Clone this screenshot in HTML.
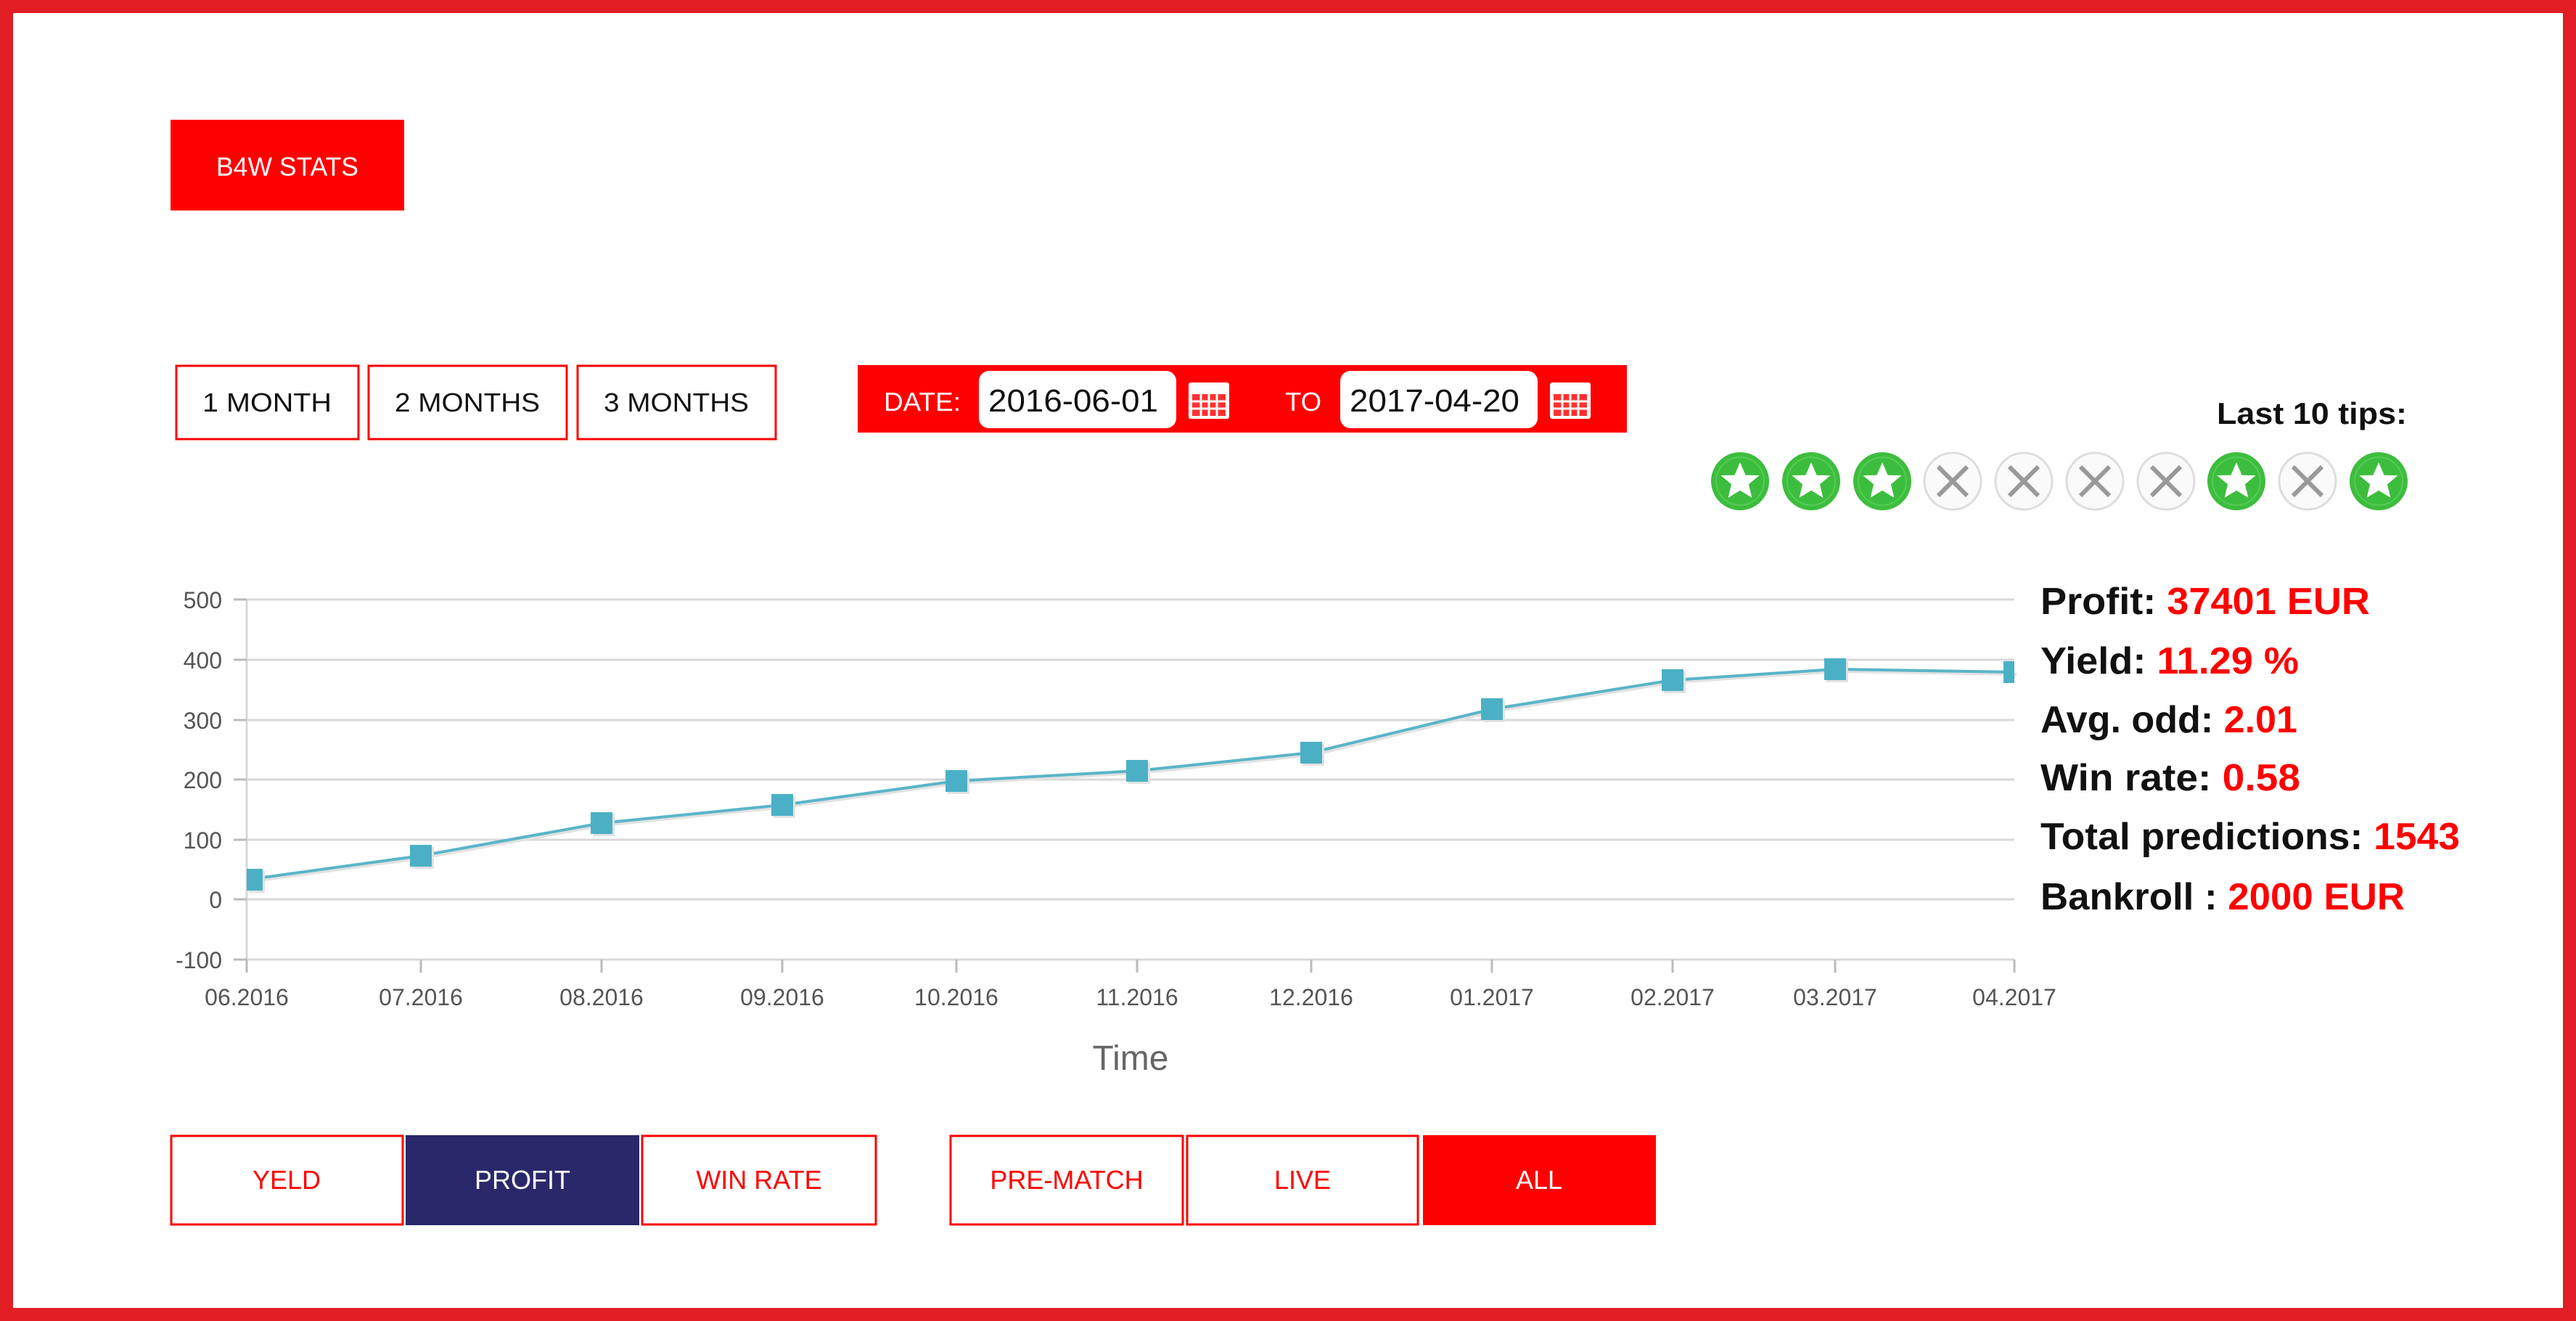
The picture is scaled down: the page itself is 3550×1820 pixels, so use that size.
<!DOCTYPE html>
<html><head><meta charset="utf-8"><style>html,body{margin:0;padding:0;background:#fff}svg{display:block}</style></head><body>
<svg width="3550" height="1820" viewBox="0 0 3550 1820" xmlns="http://www.w3.org/2000/svg" font-family="Liberation Sans, sans-serif">
<rect x="0" y="0" width="3550" height="1820" fill="#e01e24"/>
<rect x="18" y="18" width="3514" height="1784" fill="#fff"/>
<!-- B4W STATS -->
<rect x="235" y="165" width="322" height="125" fill="#ff0000"/>
<text x="396" y="242" fill="#fff" font-size="36" text-anchor="middle" textLength="196" lengthAdjust="spacingAndGlyphs">B4W STATS</text>
<!-- month buttons -->
<g fill="#fff" stroke="#ff0000" stroke-width="3">
<rect x="243" y="504" width="251" height="101"/><rect x="508" y="504" width="273" height="101"/><rect x="796" y="504" width="273" height="101"/>
</g>
<g fill="#111" font-size="36" text-anchor="middle">
<text x="368" y="567" textLength="178" lengthAdjust="spacingAndGlyphs">1 MONTH</text>
<text x="644" y="567" textLength="200" lengthAdjust="spacingAndGlyphs">2 MONTHS</text>
<text x="932" y="567" textLength="200" lengthAdjust="spacingAndGlyphs">3 MONTHS</text>
</g>
<!-- date bar -->
<rect x="1182" y="503" width="1060" height="93" fill="#ff0000"/>
<text x="1218" y="566" fill="#fff" font-size="36" textLength="106" lengthAdjust="spacingAndGlyphs">DATE:</text>
<rect x="1349" y="511" width="272" height="79" rx="14" fill="#fff"/>
<text x="1362" y="567" fill="#111" font-size="44" textLength="234" lengthAdjust="spacingAndGlyphs">2016-06-01</text>
<text x="1771" y="566" fill="#fff" font-size="36" textLength="50" lengthAdjust="spacingAndGlyphs">TO</text>
<rect x="1847" y="511" width="272" height="79" rx="14" fill="#fff"/>
<text x="1860" y="567" fill="#111" font-size="44" textLength="234" lengthAdjust="spacingAndGlyphs">2017-04-20</text>
<g fill="#fff">
<rect x="1638" y="527" width="56" height="50" rx="3"/><rect x="2136" y="527" width="56" height="50" rx="3"/>
</g>
<g fill="#ff3030">
<rect x="1643" y="543" width="46" height="30"/><rect x="2141" y="543" width="46" height="30"/>
</g>
<g stroke="#fff" stroke-width="3">
<line x1="1643" y1="553" x2="1689" y2="553"/><line x1="1643" y1="563" x2="1689" y2="563"/><line x1="1655" y1="543" x2="1655" y2="573"/><line x1="1666" y1="543" x2="1666" y2="573"/><line x1="1677" y1="543" x2="1677" y2="573"/>
<line x1="2141" y1="553" x2="2187" y2="553"/><line x1="2141" y1="563" x2="2187" y2="563"/><line x1="2153" y1="543" x2="2153" y2="573"/><line x1="2164" y1="543" x2="2164" y2="573"/><line x1="2175" y1="543" x2="2175" y2="573"/>
</g>
<!-- last 10 tips -->
<text x="3317" y="584" fill="#111" font-size="42" font-weight="bold" text-anchor="end" textLength="262" lengthAdjust="spacingAndGlyphs">Last 10 tips:</text>
<defs>
<g id="win"><circle r="40" fill="#3dbd3d"/><circle r="33" fill="none" stroke="#55cc55" stroke-width="2"/><polygon points="0,-26 7.6,-8.4 26.6,-8 11.9,4.2 16.4,22.8 0,12.8 -16.4,22.8 -11.9,4.2 -26.6,-8 -7.6,-8.4" fill="#fff"/></g>
<g id="lose"><circle r="39" fill="#fafafa" stroke="#ddd" stroke-width="3"/><path d="M-20,-20 L20,20 M20,-20 L-20,20" stroke="#999" stroke-width="6"/></g>
</defs>
<use href="#win" x="2398" y="663"/><use href="#win" x="2496" y="663"/><use href="#win" x="2594" y="663"/>
<use href="#lose" x="2691" y="663"/><use href="#lose" x="2789" y="663"/><use href="#lose" x="2887" y="663"/><use href="#lose" x="2985" y="663"/>
<use href="#win" x="3082" y="663"/><use href="#lose" x="3180" y="663"/><use href="#win" x="3278" y="663"/>
<!-- chart grid -->
<g stroke="#d8d8d8" stroke-width="3">
<line x1="340" y1="826" x2="2776" y2="826"/><line x1="340" y1="909" x2="2776" y2="909"/><line x1="340" y1="992" x2="2776" y2="992"/><line x1="340" y1="1074" x2="2776" y2="1074"/><line x1="340" y1="1157" x2="2776" y2="1157"/><line x1="340" y1="1239" x2="2776" y2="1239"/><line x1="340" y1="1322" x2="2776" y2="1322"/>
<line x1="340" y1="826" x2="340" y2="1322"/>
</g>
<g stroke="#bbb" stroke-width="3">
<line x1="322" y1="826" x2="340" y2="826"/><line x1="322" y1="909" x2="340" y2="909"/><line x1="322" y1="992" x2="340" y2="992"/><line x1="322" y1="1074" x2="340" y2="1074"/><line x1="322" y1="1157" x2="340" y2="1157"/><line x1="322" y1="1239" x2="340" y2="1239"/><line x1="322" y1="1322" x2="340" y2="1322"/>
<line x1="340" y1="1322" x2="340" y2="1340"/><line x1="580" y1="1322" x2="580" y2="1340"/><line x1="829" y1="1322" x2="829" y2="1340"/><line x1="1078" y1="1322" x2="1078" y2="1340"/><line x1="1318" y1="1322" x2="1318" y2="1340"/><line x1="1567" y1="1322" x2="1567" y2="1340"/><line x1="1807" y1="1322" x2="1807" y2="1340"/><line x1="2056" y1="1322" x2="2056" y2="1340"/><line x1="2305" y1="1322" x2="2305" y2="1340"/><line x1="2529" y1="1322" x2="2529" y2="1340"/><line x1="2776" y1="1322" x2="2776" y2="1340"/>
</g>
<g fill="#555" font-size="32" text-anchor="end">
<text x="306" y="838">500</text><text x="306" y="921">400</text><text x="306" y="1004">300</text><text x="306" y="1086">200</text><text x="306" y="1169">100</text><text x="306" y="1251">0</text><text x="306" y="1334">-100</text>
</g>
<g fill="#555" font-size="32" text-anchor="middle">
<text x="340" y="1385">06.2016</text><text x="580" y="1385">07.2016</text><text x="829" y="1385">08.2016</text><text x="1078" y="1385">09.2016</text><text x="1318" y="1385">10.2016</text><text x="1567" y="1385">11.2016</text><text x="1807" y="1385">12.2016</text><text x="2056" y="1385">01.2017</text><text x="2305" y="1385">02.2017</text><text x="2529" y="1385">03.2017</text><text x="2776" y="1385">04.2017</text>
</g>
<text x="1558" y="1474" fill="#666" font-size="48" text-anchor="middle">Time</text>
<!-- series -->
<polyline points="343,1215 583,1182 832,1137 1081,1112 1321,1079 1570,1065 1810,1040 2059,980 2308,940 2532,925 2779,929" fill="none" stroke="#e2e2e2" stroke-width="4"/>
<polyline points="340,1212 580,1179 829,1134 1078,1109 1318,1076 1567,1062 1807,1037 2056,977 2305,937 2529,922 2776,926" fill="none" stroke="#5ab5c8" stroke-width="4"/>
<g fill="#e2e2e2">
<rect x="343" y="1200" width="22" height="30"/><rect x="568" y="1167" width="30" height="30"/><rect x="817" y="1122" width="30" height="30"/><rect x="1066" y="1097" width="30" height="30"/><rect x="1306" y="1064" width="30" height="30"/><rect x="1555" y="1050" width="30" height="30"/><rect x="1795" y="1025" width="30" height="30"/><rect x="2044" y="965" width="30" height="30"/><rect x="2293" y="925" width="30" height="30"/><rect x="2517" y="910" width="30" height="30"/>
</g>
<g fill="#4bb0c6">
<rect x="340" y="1197" width="22" height="30"/><rect x="565" y="1164" width="30" height="30"/><rect x="814" y="1119" width="30" height="30"/><rect x="1063" y="1094" width="30" height="30"/><rect x="1303" y="1061" width="30" height="30"/><rect x="1552" y="1047" width="30" height="30"/><rect x="1792" y="1022" width="30" height="30"/><rect x="2041" y="962" width="30" height="30"/><rect x="2290" y="922" width="30" height="30"/><rect x="2514" y="907" width="30" height="30"/><rect x="2761" y="911" width="15" height="30"/>
</g>
<!-- stats -->
<g font-size="52" font-weight="bold" fill="#111">
<text x="2812" y="846" textLength="454" lengthAdjust="spacingAndGlyphs">Profit: <tspan fill="#ff0000">37401 EUR</tspan></text>
<text x="2812" y="928" textLength="356" lengthAdjust="spacingAndGlyphs">Yield: <tspan fill="#ff0000">11.29 %</tspan></text>
<text x="2812" y="1009" textLength="354" lengthAdjust="spacingAndGlyphs">Avg. odd: <tspan fill="#ff0000">2.01</tspan></text>
<text x="2812" y="1089" textLength="358" lengthAdjust="spacingAndGlyphs">Win rate: <tspan fill="#ff0000">0.58</tspan></text>
<text x="2812" y="1170" textLength="578" lengthAdjust="spacingAndGlyphs">Total predictions: <tspan fill="#ff0000">1543</tspan></text>
<text x="2812" y="1253" textLength="502" lengthAdjust="spacingAndGlyphs">Bankroll : <tspan fill="#ff0000">2000 EUR</tspan></text>
</g>
<!-- bottom buttons -->
<g stroke="#ff0000" stroke-width="3" fill="#fff">
<rect x="236" y="1565" width="319" height="122"/><rect x="885" y="1565" width="322" height="122"/><rect x="1310" y="1565" width="320" height="122"/><rect x="1636" y="1565" width="318" height="122"/>
</g>
<rect x="559" y="1564" width="322" height="124" fill="#29286a"/>
<rect x="1961" y="1564" width="321" height="124" fill="#ff0000"/>
<g font-size="36" text-anchor="middle" fill="#ff0000">
<text x="395" y="1638">YELD</text><text x="1046" y="1638">WIN RATE</text><text x="1470" y="1638">PRE-MATCH</text><text x="1795" y="1638">LIVE</text>
</g>
<g font-size="36" text-anchor="middle" fill="#fff">
<text x="720" y="1638">PROFIT</text><text x="2121" y="1638">ALL</text>
</g>
</svg>
</body></html>
